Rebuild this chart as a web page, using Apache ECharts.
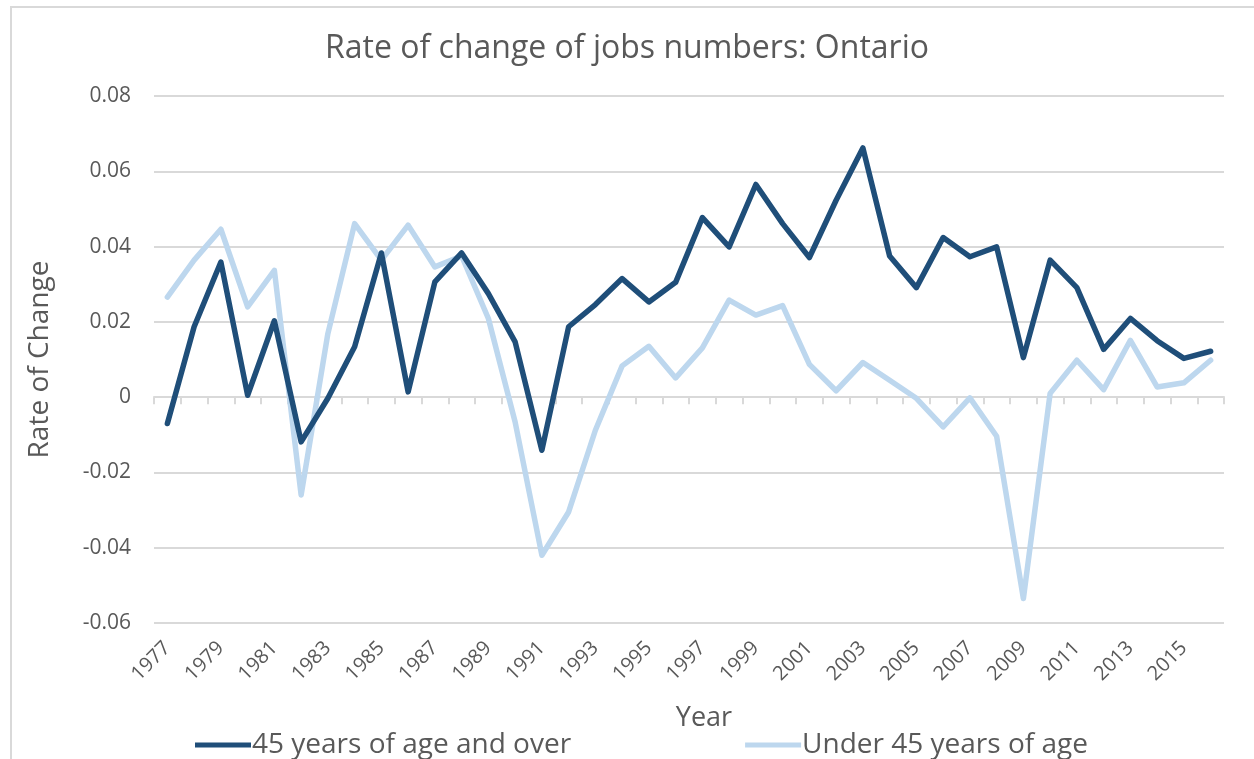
<!DOCTYPE html>
<html>
<head>
<meta charset="utf-8">
<title>Rate of change of jobs numbers: Ontario</title>
<script src="https://cdn.jsdelivr.net/npm/echarts@6/dist/echarts.min.js"></script>
<style>
	html, body { margin: 0; padding: 0; background: #fff; }
	#chart { width: 1254px; height: 759px; }
</style>
</head>
<body>
<div id="chart"></div>
<script>
// years 1977 - 2016
var years = ['1977', '1978', '1979', '1980', '1981', '1982', '1983', '1984', '1985', '1986',
	'1987', '1988', '1989', '1990', '1991', '1992', '1993', '1994', '1995', '1996',
	'1997', '1998', '1999', '2000', '2001', '2002', '2003', '2004', '2005', '2006',
	'2007', '2008', '2009', '2010', '2011', '2012', '2013', '2014', '2015', '2016'];

// 45 years of age and over
var over45 = [-0.0070, 0.0187, 0.0359, 0.0005, 0.0203, -0.0119, -0.0003, 0.0134, 0.0383, 0.0014,
	0.0306, 0.0383, 0.0275, 0.0147, -0.0141, 0.0187, 0.0246, 0.0315, 0.0253, 0.0305,
	0.0477, 0.0399, 0.0565, 0.0461, 0.0371, 0.0523, 0.0662, 0.0375, 0.0291, 0.0424,
	0.0373, 0.0399, 0.0105, 0.0364, 0.0291, 0.0127, 0.0209, 0.0150, 0.0103, 0.0122];

// Under 45 years of age
var under45 = [0.0266, 0.0364, 0.0446, 0.0240, 0.0337, -0.0260, 0.0169, 0.0461, 0.0364, 0.0457,
	0.0346, 0.0375, 0.0209, -0.0066, -0.0420, -0.0305, -0.0088, 0.0083, 0.0135, 0.0051,
	0.0131, 0.0258, 0.0218, 0.0243, 0.0087, 0.0017, 0.0092, 0.0045, -0.0003, -0.0079,
	-0.0002, -0.0104, -0.0535, 0.0010, 0.0098, 0.0020, 0.0151, 0.0027, 0.0038, 0.0098];

var seriesNames = ['45 years of age and over', 'Under 45 years of age'];
var seriesColors = ['#1f4e79', '#bdd7ee'];

var fontName = 'Open Sans';
var textColor = '#595959';
var lineColor = '#d9d9d9';

var chart = echarts.init(document.getElementById('chart'));

var option = {
	animation: false,
	backgroundColor: '#fff',
	textStyle: { fontFamily: fontName },
	title: {
		text: 'Rate of change of jobs numbers: Ontario',
		left: 'center',
		top: 28,
		textStyle: { fontFamily: fontName, fontSize: 32, fontWeight: 'normal', color: textColor }
	},
	graphic: [{ //chart border
		type: 'rect',
		shape: { x: 11, y: 7, width: 1260, height: 770 },
		style: { fill: 'none', stroke: lineColor, lineWidth: 2 },
		silent: true
	}],
	legend: {
		left: 190,
		top: 726,
		itemGap: 174,
		itemWidth: 56,
		itemHeight: 5,
		icon: 'rect',
		textStyle: { fontFamily: fontName, fontSize: 28, color: textColor, padding: [0, 0, 0, -4] },
		data: seriesNames
	},
	grid: {
		left: 154,
		right: 30,
		top: 96,
		bottom: 136
	},
	xAxis: [{
		//labels along the bottom
		type: 'category',
		data: years,
		boundaryGap: true,
		position: 'bottom',
		name: 'Year',
		nameLocation: 'middle',
		nameGap: 82,
		nameTextStyle: { fontFamily: fontName, fontSize: 27, color: textColor, padding: [0, 0, 0, 30] },
		axisLine: { show: false, onZero: false },
		axisTick: { show: false },
		axisLabel: {
			interval: 1,
			rotate: 45,
			margin: 22,
			fontFamily: fontName,
			fontSize: 20,
			color: textColor
		},
		splitLine: { show: false }
	}, {
		//axis line sitting on zero with ticks
		type: 'category',
		data: years,
		boundaryGap: true,
		position: 'bottom',
		axisLine: { show: true, onZero: true, lineStyle: { color: lineColor, width: 2 } },
		axisTick: { show: true, interval: 0, length: 7, lineStyle: { color: lineColor, width: 2 } },
		axisLabel: { show: false },
		splitLine: { show: false }
	}],
	yAxis: {
		type: 'value',
		min: -0.06,
		max: 0.08,
		interval: 0.02,
		name: 'Rate of Change',
		nameLocation: 'middle',
		nameRotate: 90,
		nameGap: 100,
		nameTextStyle: { fontFamily: fontName, fontSize: 28, color: textColor },
		axisLine: { show: false },
		axisTick: { show: false },
		axisLabel: {
			margin: 23,
			fontFamily: fontName,
			fontSize: 21,
			color: textColor,
			formatter: function (v) {
				var r = Math.round(v * 100) / 100;
				return r === 0 ? '0' : r.toFixed(2);
			}
		},
		splitLine: { show: true, lineStyle: { color: lineColor, width: 2 } }
	},
	series: [{
		name: seriesNames[0],
		type: 'line',
		data: over45,
		symbol: 'none',
		lineStyle: { color: seriesColors[0], width: 5.5, join: 'round', cap: 'round' },
		itemStyle: { color: seriesColors[0] },
		z: 3
	}, {
		name: seriesNames[1],
		type: 'line',
		data: under45,
		symbol: 'none',
		lineStyle: { color: seriesColors[1], width: 5.5, join: 'round', cap: 'round' },
		itemStyle: { color: seriesColors[1] },
		z: 2
	}]
};

chart.setOption(option);
</script>
</body>
</html>
